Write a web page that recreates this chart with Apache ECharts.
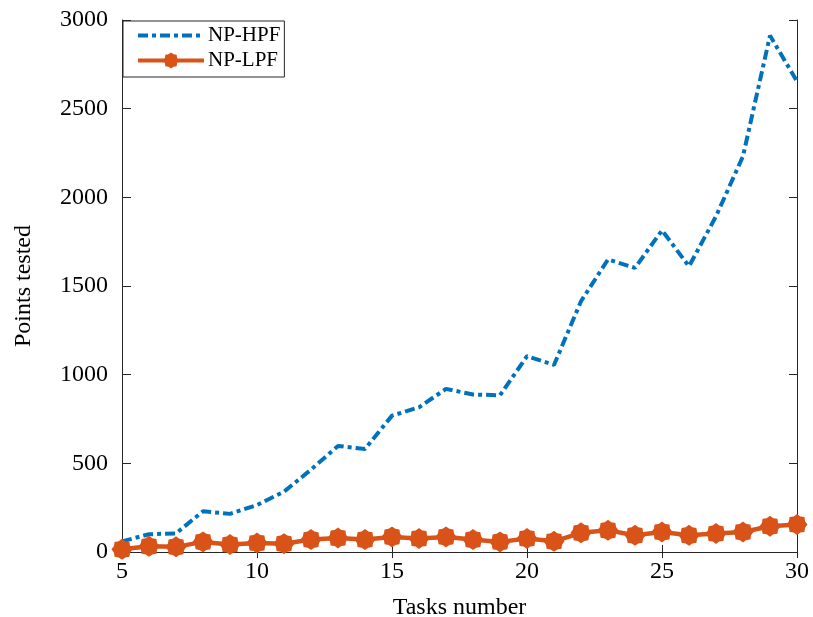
<!DOCTYPE html>
<html><head><meta charset="UTF-8">
<title>points tested</title>
<style>*{margin:0;padding:0}body{background:#fff}#chart{width:813px;height:617px}</style>
<script src="https://cdn.jsdelivr.net/npm/echarts@6/dist/echarts.min.js"></script>
</head>
<body>
<div id="chart"></div>
<script>
// task counts on the x axis
const tasks = [5,6,7,8,9,10,11,12,13,14,15,16,17,18,19,20,21,22,23,24,25,26,27,28,29,30];
// points tested
const npHpf = [60,100,105,230,215,265,340,465,598,581,769,816,920,888,884,1104,1055,1414,1650,1602,1814,1611,1893,2232,2912,2654];
const npLpf = [15,32,29,57,42,51,47,70,79,70,85,76,85,70,57,76,60,108,122,94,113,94,104,113,145,155];

const axisColor = '#262626';
const font = '"Liberation Serif", "Times New Roman", serif';

// matlab '*' marker drawn thick looks like a blob with 8 lobes
function flowerPath() {
    let pts = [];
    for (let k = 0; k < 16; k++) {
        const a = k * Math.PI / 8;
        const r = k % 2 === 0 ? 10 : 8.3;
        pts.push((r * Math.cos(a)).toFixed(2) + ' ' + (r * Math.sin(a)).toFixed(2));
    }
    return 'path://M' + pts.join(' L') + ' Z';
}

const chart = echarts.init(document.getElementById('chart'));

function sideAxis(pos, len) {
    return {
        position: pos,
        axisLine: { show: true, lineStyle: { color: axisColor, width: 1 } },
        axisTick: { show: true, inside: true, length: len, lineStyle: { color: axisColor } },
        axisLabel: { show: false },
        splitLine: { show: false }
    };
}

chart.setOption({
    animation: false,
    textStyle: { fontFamily: font },
    grid: { left: 122, right: 16, top: 20, bottom: 65, outerBoundsMode: 'none', containLabel: false },
    legend: {
        orient: 'vertical',
        left: 123, top: 21,
        padding: [4, 4, 6, 13],
        itemGap: 4,
        itemWidth: 66, itemHeight: 20,
        borderColor: axisColor, borderWidth: 1,
        backgroundColor: '#fff',
        textStyle: { fontFamily: font, fontSize: 21, color: '#000', lineHeight: 21, padding: [0, 0, 0, -1] },
        data: [
            { name: 'NP-HPF', itemStyle: { opacity: 0 }, lineStyle: { width: 4 } },
            { name: 'NP-LPF', lineStyle: { width: 4 } }
        ]
    },
    xAxis: [{
        type: 'value', min: 5, max: 30, interval: 5,
        position: 'bottom',
        name: 'Tasks number', nameLocation: 'middle', nameGap: 44,
        nameTextStyle: { fontFamily: font, fontSize: 24, color: '#000' },
        axisLine: { show: true, onZero: false, lineStyle: { color: axisColor, width: 1 } },
        axisTick: { show: true, inside: true, length: 7, lineStyle: { color: axisColor } },
        axisLabel: { fontFamily: font, fontSize: 24, color: '#000', margin: 8 },
        splitLine: { show: false }
    }, Object.assign({ type: 'value', min: 5, max: 30, interval: 5 }, sideAxis('top', 6))],
    yAxis: [{
        type: 'value', min: 0, max: 3000, interval: 500,
        position: 'left',
        name: 'Points tested', nameLocation: 'middle', nameGap: 86, nameRotate: 90,
        nameTextStyle: { fontFamily: font, fontSize: 24, color: '#000' },
        axisLine: { show: true, onZero: false, lineStyle: { color: axisColor, width: 1 } },
        axisTick: { show: true, inside: true, length: 9, lineStyle: { color: axisColor } },
        axisLabel: { fontFamily: font, fontSize: 24, color: '#000', margin: 14, formatter: v => String(v) },
        splitLine: { show: false }
    }, Object.assign({ type: 'value', min: 0, max: 3000, interval: 500 }, sideAxis('right', 8))],
    series: [{
        name: 'NP-HPF', type: 'line',
        data: tasks.map((t, i) => [t, npHpf[i]]),
        showSymbol: false, symbol: 'none',
        color: '#0072BD',
        lineStyle: { color: '#0072BD', width: 4, type: [10, 4, 4, 4] },
        z: 3
    }, {
        name: 'NP-LPF', type: 'line',
        data: tasks.map((t, i) => [t, npLpf[i]]),
        clip: false,
        symbol: flowerPath(), symbolSize: 21, showAllSymbol: true,
        color: '#D95319',
        itemStyle: { color: '#D95319' },
        lineStyle: { color: '#D95319', width: 4.5 },
        z: 4
    }]
});
</script>
</body></html>
